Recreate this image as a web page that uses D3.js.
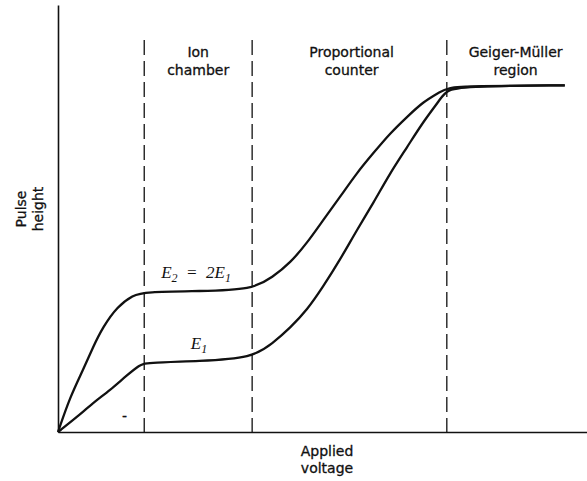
<!DOCTYPE html>
<html>
<head>
<meta charset="utf-8">
<script src="https://cdn.jsdelivr.net/npm/d3@7"></script>
<style>
  body { margin: 0; background: #fff; }
  .label { font-family: 'DejaVu Sans', sans-serif; font-size: 14px; fill: #111; stroke: #111; stroke-width: 0.3; }
  .math { font-family: 'Liberation Serif', serif; font-style: italic; font-size: 17px; fill: #111; }
</style>
</head>
<body>
<div class="chart"></div>
<script>
// values (voltage in arbitrary units 0-1000, pulse height 0-100)
var voltageE2 = [0, 22.7, 47.3, 66.2, 85.1, 111.5, 141.8, 164.5, 268, 367, 406, 439, 471, 501, 533, 565, 596, 628, 660, 690, 722, 735, 779, 958];
var heightE2  = [0, 8.2, 14.5, 19.9, 24.6, 29.3, 32.1, 32.8, 33.0, 33.3, 36.3, 39.6, 44.3, 49.6, 55.0, 60.7, 65.3, 70.0, 73.8, 77.3, 79.6, 80.6, 81.0, 81.2];

var voltageE1 = [0, 35.9, 66.2, 98.3, 130.4, 155, 164.5, 268, 367, 406, 439, 471, 501, 533, 565, 596, 628, 660, 690, 722, 735, 779, 958];
var heightE1  = [0, 3.5, 6.8, 9.8, 13.3, 15.7, 16.2, 16.6, 17.3, 20.8, 24.4, 28.6, 34.0, 40.3, 47.3, 53.6, 60.7, 66.7, 72.6, 77.8, 80.3, 81.0, 81.2];

var regionBounds = [163, 367, 735];
var regionLabels = [
  ['Ion', 'chamber'],
  ['Proportional', 'counter'],
  ['Geiger-Müller', 'region']
];
var regionCenters = [265, 555, 865];

var svgWidth = 587;
var svgHeight = 481;

var svg = d3.select('.chart')
  .append('svg')
  .attr('width', svgWidth)
  .attr('height', svgHeight);

var x = d3.scaleLinear().domain([0, 1000]).range([58, 587]);
var y = d3.scaleLinear().domain([0, 100]).range([432, 5]);

// axes without ticks
svg.append('g')
  .attr('transform', `translate(0, ${y(0)})`)
  .call(d3.axisBottom(x).ticks(0).tickSizeOuter(0))
  .select('.domain')
  .attr('stroke', '#111')
  .attr('stroke-width', 1.6);

svg.append('g')
  .attr('transform', `translate(${x(0)}, 0)`)
  .call(d3.axisLeft(y).ticks(0).tickSizeOuter(0))
  .select('.domain')
  .attr('stroke', '#111')
  .attr('stroke-width', 1.6);

// region boundaries
svg.selectAll('.bound')
  .data(regionBounds)
  .enter()
  .append('line')
  .attr('class', 'bound')
  .attr('x1', d => x(d))
  .attr('x2', d => x(d))
  .attr('y1', y(91.8))
  .attr('y2', y(0))
  .attr('stroke', '#111')
  .attr('stroke-width', 1.3)
  .attr('stroke-dasharray', '15,6');

// region labels
regionLabels.forEach(function(lines, i) {
  var t = svg.append('text')
    .attr('class', 'label')
    .attr('text-anchor', 'middle')
    .attr('x', x(regionCenters[i]))
    .attr('y', 56.5);
  lines.forEach(function(s, j) {
    t.append('tspan')
      .attr('x', x(regionCenters[i]))
      .attr('dy', j === 0 ? 0 : 18)
      .text(s);
  });
});

// curves
var line = d3.line()
  .x(d => x(d[0]))
  .y(d => y(d[1]))
  .curve(d3.curveBasis);

[[voltageE2, heightE2], [voltageE1, heightE1]].forEach(function(s) {
  svg.append('path')
    .datum(d3.zip(s[0], s[1]))
    .attr('d', line)
    .attr('fill', 'none')
    .attr('stroke', '#111')
    .attr('stroke-width', 2.3)
    .attr('stroke-linejoin', 'round');
});

// curve labels
var e2 = svg.append('text')
  .attr('class', 'math')
  .attr('text-anchor', 'middle')
  .attr('x', 196)
  .attr('y', 278);
e2.append('tspan').text('E');
e2.append('tspan').attr('dy', 4).attr('font-size', 12).text('2');
e2.append('tspan').attr('dy', -4).attr('xml:space', 'preserve').text('  =  2E');
e2.append('tspan').attr('dy', 4).attr('font-size', 12).text('1');

var e1 = svg.append('text')
  .attr('class', 'math')
  .attr('text-anchor', 'middle')
  .attr('x', 199)
  .attr('y', 349);
e1.append('tspan').text('E');
e1.append('tspan').attr('dy', 4).attr('font-size', 12).text('1');

// stray mark from the original print
svg.append('text')
  .attr('class', 'label')
  .attr('x', 122)
  .attr('y', 421)
  .attr('font-size', 10)
  .text('-');

// axis titles
var xt = svg.append('text')
  .attr('class', 'label')
  .attr('text-anchor', 'middle')
  .attr('x', 327)
  .attr('y', 455.5);
xt.append('tspan').attr('x', 327).text('Applied');
xt.append('tspan').attr('x', 327).attr('dy', 17.5).text('voltage');

var yt = svg.append('text')
  .attr('class', 'label')
  .attr('text-anchor', 'middle')
  .attr('transform', 'translate(26, 209) rotate(-90)');
yt.append('tspan').attr('x', 0).text('Pulse');
yt.append('tspan').attr('x', 0).attr('dy', 17).text('height');
</script>
</body>
</html>
